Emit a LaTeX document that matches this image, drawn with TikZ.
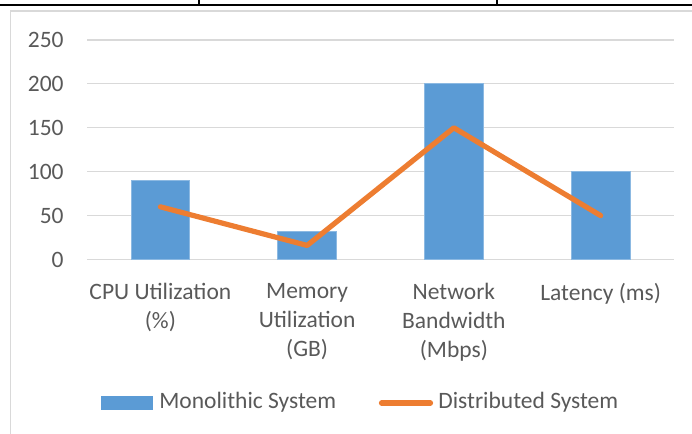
\documentclass[tikz,border=0pt]{standalone}
\usepackage{fontspec}
\setmainfont{Carlito}
\definecolor{barblue}{HTML}{5B9BD5}
\definecolor{lineorange}{HTML}{ED7D31}
\definecolor{gridgray}{HTML}{D9D9D9}
\definecolor{labelgray}{HTML}{595959}
\tikzset{
  chartfont/.style={text=labelgray,inner sep=0pt,font=\fontsize{11.75}{14.5}\selectfont},
  ticklabel/.style={chartfont,anchor=east},
  catlabel/.style={chartfont,align=center,anchor=north},
  gridline/.style={draw=gridgray,line width=0.6pt},
  monobar/.style={fill=barblue,draw=barblue!70!white,line width=0.4pt},
  distline/.style={draw=lineorange,line width=2.6pt,line cap=round,line join=round},
}
\begin{document}
\begin{tikzpicture}[x=0.5pt,y=0.5pt]
      \useasboundingbox(0,0)rectangle(692,434);
      % rule of the table above
      \draw[line width=1pt](0,429.3)--(692,429.3);
      \draw[line width=0.6pt](199,434)--(199,429.3) (497,434)--(497,429.3);
      % chart frame
      \draw[gridgray,line width=0.9pt](10.5,-10)|-(710,423);
      \begin{scope}[shift={(0,174.5)},y=0.439pt]
        % value axis
        \foreach \v in {0,50,...,250}{
          \draw[gridline](87,\v)--(674,\v);
          \node[ticklabel](tick\v) at (64,\v){\v};
        }
        % bars and line points
        \foreach \i/\m/\d in {1/90/60,2/32/16,3/200/150,4/100/50}{
          \pgfmathsetmacro\cx{87+146.75*(\i-0.5)}
          \filldraw[monobar](\cx-29.3,0)rectangle(\cx+29.3,\m);
          \coordinate(d\i) at (\cx,\d);
        }
        \draw[distline](d1)--(d2)--(d3)--(d4);
      \end{scope}
      % category names
      \foreach \i/\t in {1/{CPU Utilization\\(\%)},2/{Memory\\Utilization\\(GB)},3/{Network\\Bandwidth\\(Mbps)},4/{Latency (ms)}}{
        \node[catlabel](cat\i) at ({87+146.75*(\i-0.5)},151){\t};
      }
      % legend
      \fill[barblue](101,24)rectangle(153,38);
      \node[chartfont,anchor=base west](monolabel) at (159,25){Monolithic System};
      \coordinate(lstart) at (381.5,31);
      \coordinate(lend) at (430.5,31);
      \draw[distline](lstart)--(lend);
      \node[chartfont,anchor=base west](distlabel) at (438,25){Distributed System};
    \end{tikzpicture}
\end{document}
